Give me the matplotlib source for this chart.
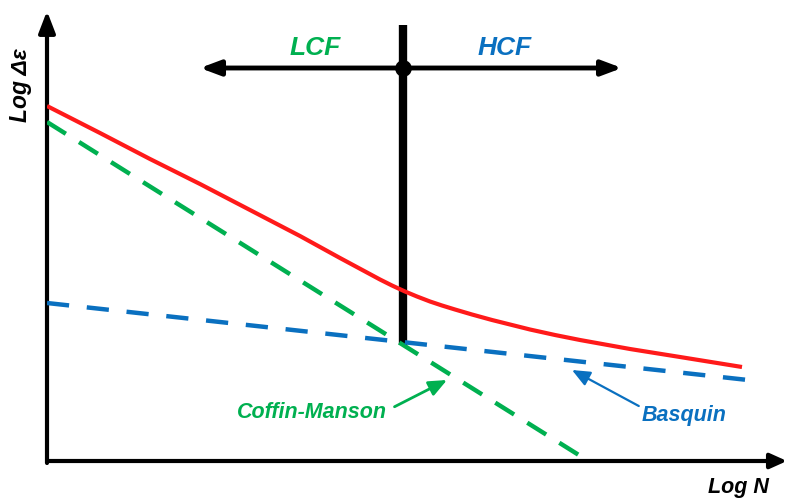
import matplotlib
matplotlib.use('Agg')
import matplotlib.pyplot as plt

# 数据 (单位: log N / log Δε 示意坐标)
red_x = [0, 53, 103, 153, 203, 253, 293, 333, 345, 358, 370, 383, 395, 408, 425, 445,
         465, 483, 508, 533, 583, 633, 695]
red_y = [355, 328, 302, 277, 251, 225, 203, 181.5, 175.5, 169.5, 164.5, 159.5, 155.5, 151.5,
         146.5, 141, 136, 131.5, 126, 121, 112, 104, 94]
green_x = [0, 543]
green_y = [339, -1]
blue_x = [0, 701]
blue_y = [158, 81]

split_x = 356
split_top = 436
arrow_y = 393
arrow_left, arrow_right = 153, 575

RED = '#ff1a1a'
GREEN = '#00b050'
BLUE = '#0a70c0'
FONT = ['Liberation Sans', 'DejaVu Sans']

fig = plt.figure(figsize=(7.87, 5.01), dpi=100)
ax = fig.add_axes([47/787, 40/501, 740/787, 461/501])
ax.set_xlim(0, 740)
ax.set_ylim(0, 461)
ax.axis('off')

# 坐标轴箭头
ax.annotate('', xy=(740, 0), xytext=(0, 0), annotation_clip=False,
            arrowprops=dict(arrowstyle='-|>,head_length=1.0,head_width=0.45', color='black', lw=3, shrinkA=0, shrinkB=0))
ax.annotate('', xy=(0, 450), xytext=(0, -2), annotation_clip=False,
            arrowprops=dict(arrowstyle='-|>,head_length=1.3,head_width=0.5', color='black', lw=3, shrinkA=0, shrinkB=0))

# 曲线
ax.plot(red_x, red_y, color=RED, lw=3, solid_capstyle='butt', solid_joinstyle='round', zorder=3)
ax.plot(green_x, green_y, color=GREEN, lw=3.2, dashes=(5, 3.5), zorder=3)
ax.plot(blue_x, blue_y, color=BLUE, lw=3.2, dashes=(5, 4), zorder=3)

# LCF / HCF 分界
ax.plot([split_x, split_x], [green_y[0] - (green_y[0] - green_y[1]) * split_x / green_x[1], split_top],
        color='black', lw=6, zorder=2, solid_capstyle='butt')
ax.annotate('', xy=(arrow_left, arrow_y), xytext=(split_x, arrow_y),
            arrowprops=dict(arrowstyle='-|>,head_length=1.2,head_width=0.45', color='black', lw=3.5, shrinkA=0, shrinkB=0))
ax.annotate('', xy=(arrow_right, arrow_y), xytext=(split_x, arrow_y),
            arrowprops=dict(arrowstyle='-|>,head_length=1.2,head_width=0.45', color='black', lw=3.5, shrinkA=0, shrinkB=0))
ax.plot([split_x], [arrow_y], 'o', color='black', ms=11, zorder=4)

ax.text(268, 413, 'LCF', color=GREEN, fontsize=19, fontweight='bold', style='italic',
        family=FONT, ha='center', va='center')
ax.text(458, 413, 'HCF', color=BLUE, fontsize=19, fontweight='bold', style='italic',
        family=FONT, ha='center', va='center')

# 标注
ax.annotate('Coffin-Manson', xy=(400, 81), xytext=(265, 49), color=GREEN, fontsize=15.5,
            fontweight='bold', style='italic', family=FONT, ha='center', va='center',
            arrowprops=dict(arrowstyle='-|>,head_length=0.7,head_width=0.3', color=GREEN, lw=2,
                            shrinkA=0, shrinkB=0, relpos=(1.05, 0.75)))
ax.annotate('Basquin', xy=(525, 91), xytext=(637, 46), color=BLUE, fontsize=15.5,
            fontweight='bold', style='italic', family=FONT, ha='center', va='center',
            arrowprops=dict(arrowstyle='-|>,head_length=0.7,head_width=0.3', color=BLUE, lw=1.6,
                            shrinkA=0, shrinkB=0, relpos=(-0.02, 0.9)))

# 轴标签
ax.text(691, -26, 'Log N', fontsize=15.5, fontweight='bold', style='italic', family=FONT,
        ha='center', va='center')
ax.text(-27, 376, 'Log Δε', fontsize=16.5, fontweight='bold', style='italic', family=FONT,
        ha='center', va='center', rotation=90)

fig.savefig('out.png', dpi=100)
